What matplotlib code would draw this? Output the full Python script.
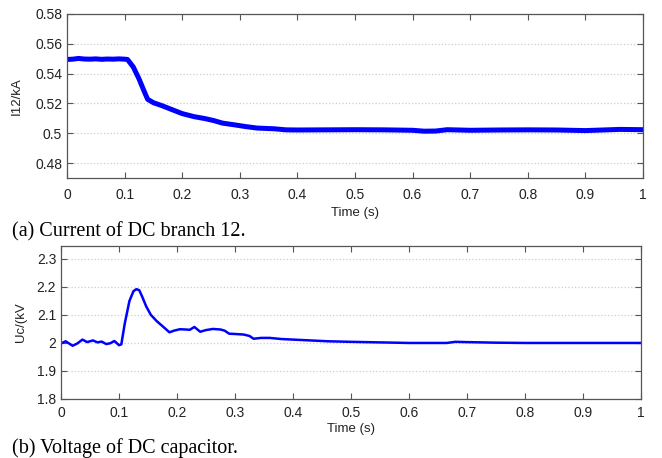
import matplotlib.pyplot as plt

# (a) current of DC branch 12
t_i = [0.0, 0.01, 0.02, 0.03, 0.04, 0.05, 0.06, 0.07, 0.08, 0.09, 0.1, 0.105,
       0.115, 0.125, 0.135, 0.14, 0.15, 0.165, 0.18, 0.2, 0.22, 0.24, 0.255,
       0.27, 0.29, 0.31, 0.33, 0.36, 0.38, 0.4, 0.45, 0.5, 0.55, 0.6, 0.62,
       0.64, 0.66, 0.7, 0.75, 0.8, 0.85, 0.9, 0.93, 0.96, 1.0]
i12 = [0.5495, 0.5497, 0.5502, 0.5498, 0.5497, 0.5499, 0.5496, 0.5498, 0.5497,
       0.5499, 0.5497, 0.5495, 0.5445, 0.5365, 0.5272, 0.5228, 0.5205, 0.5185,
       0.5162, 0.5132, 0.5112, 0.5098, 0.5085, 0.5068, 0.5057, 0.5045, 0.5035,
       0.5030, 0.5023, 0.5022, 0.5023, 0.5024, 0.5023, 0.5020, 0.5014, 0.5015,
       0.5024, 0.5020, 0.5022, 0.5023, 0.5022, 0.5018, 0.5022, 0.5026, 0.5024]

# (b) voltage of DC capacitor
t_u = [0.0, 0.008, 0.02, 0.028, 0.037, 0.045, 0.055, 0.063, 0.07, 0.078,
       0.085, 0.092, 0.1, 0.104, 0.11, 0.118, 0.125, 0.13, 0.135, 0.14,
       0.147, 0.155, 0.165, 0.175, 0.187, 0.195, 0.205, 0.215, 0.222, 0.23,
       0.24, 0.25, 0.262, 0.275, 0.282, 0.29, 0.3, 0.315, 0.325, 0.332,
       0.345, 0.36, 0.38, 0.4, 0.43, 0.46, 0.5, 0.55, 0.6, 0.65, 0.665,
       0.68, 0.7, 0.75, 0.8, 0.9, 1.0]
uc = [1.998, 2.006, 1.99, 1.998, 2.012, 2.003, 2.009, 2.002, 2.005, 1.996,
      1.999, 2.007, 1.992, 1.995, 2.07, 2.15, 2.185, 2.192, 2.188, 2.165,
      2.13, 2.1, 2.078, 2.06, 2.038, 2.044, 2.049, 2.048, 2.047, 2.057,
      2.04, 2.046, 2.05, 2.048, 2.044, 2.033, 2.032, 2.03, 2.025, 2.015,
      2.018, 2.018, 2.014, 2.012, 2.009, 2.006, 2.004, 2.002, 2.0, 2.0, 2.0,
      2.004, 2.003, 2.001, 2.0, 2.0, 2.0]

xticks = [0, 0.1, 0.2, 0.3, 0.4, 0.5, 0.6, 0.7, 0.8, 0.9, 1]
xlabels = ['0', '0.1', '0.2', '0.3', '0.4', '0.5', '0.6', '0.7', '0.8', '0.9', '1']
yticks_a = [0.48, 0.5, 0.52, 0.54, 0.56, 0.58]
ylabels_a = ['0.48', '0.5', '0.52', '0.54', '0.56', '0.58']
yticks_b = [1.8, 1.9, 2.0, 2.1, 2.2, 2.3]
ylabels_b = ['1.8', '1.9', '2', '2.1', '2.2', '2.3']

plt.rcParams['font.family'] = ['Liberation Sans', 'DejaVu Sans']

W, H = 662, 458
fig = plt.figure(figsize=(W / 100, H / 100), dpi=100)


def make_axes(x0, x1, y0, y1):
    return fig.add_axes([x0 / W, 1 - y1 / H, (x1 - x0) / W, (y1 - y0) / H])


def style(ax, yt, yl, ylab, xpad, xlabpad, ylabpad):
    ax.set_xlim(0, 1)
    ax.set_xticks(xticks)
    ax.set_xticklabels(xlabels)
    ax.set_yticks(yt)
    ax.set_yticklabels(yl)
    ax.grid(axis='y', linestyle=':', color='#cccccc', linewidth=0.9)
    ax.tick_params(direction='in', top=True, right=True, length=4,
                   width=0.8, color='#555555', labelsize=10, labelcolor='#222222')
    ax.tick_params(axis='x', pad=xpad)
    for s in ax.spines.values():
        s.set_color('#555555')
        s.set_linewidth(0.9)
    ax.set_xlabel('Time (s)', fontsize=9.5, color='#222222', labelpad=xlabpad)
    ax.set_ylabel(ylab, fontsize=9.5, color='#222222', labelpad=ylabpad)


ax1 = make_axes(67, 643, 14, 178)
ax1.plot(t_i, i12, color='#0000ff', linewidth=3.6, solid_joinstyle='round')
ax1.set_ylim(0.47, 0.58)
style(ax1, yticks_a, ylabels_a, 'I12/kA', 7.5, 3.5, 9)

ax2 = make_axes(61, 641, 246, 399)
ax2.plot(t_u, uc, color='#0000ff', linewidth=1.8)
ax2.set_ylim(1.8, 2.346)
style(ax2, yticks_b, ylabels_b, 'Uc/(kV', 5.0, 2.0, 7)

fig.text(12 / W, 1 - 232 / H, '(a) Current of DC branch 12.', family='Liberation Serif',
         fontsize=14.5, va='center', ha='left')
fig.text(12 / W, 1 - 448 / H, '(b) Voltage of DC capacitor.', family='Liberation Serif',
         fontsize=14.5, va='center', ha='left')

fig.savefig('out.png', dpi=100)
